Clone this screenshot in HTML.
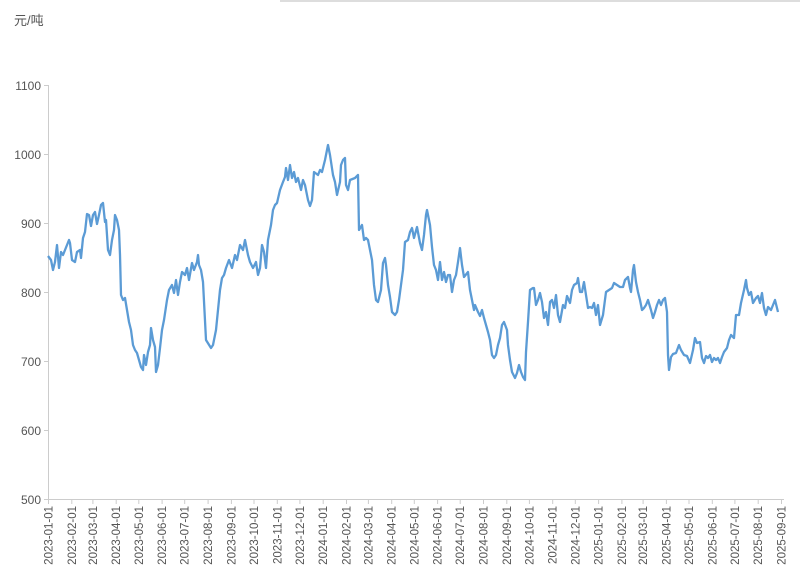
<!DOCTYPE html>
<html><head><meta charset="utf-8"><style>
body{margin:0;background:#fff;}
svg{display:block;font-family:"Liberation Sans","Noto Sans CJK SC",sans-serif;}
</style></head><body>
<svg width="800" height="580" viewBox="0 0 800 580">
<rect x="280" y="0" width="520" height="2" fill="#ddd"/>
<text x="14" y="25" font-size="13" fill="#555">元/吨</text>
<g stroke="#ccc" stroke-width="1" fill="none">
<line x1="48.5" y1="85" x2="48.5" y2="500"/>
<line x1="48" y1="499.5" x2="784" y2="499.5"/>
</g>
<g font-size="12" fill="#555" text-anchor="end">
<text x="41" y="90">1100</text><text x="41" y="159">1000</text><text x="41" y="228">900</text>
<text x="41" y="297">800</text><text x="41" y="366">700</text><text x="41" y="435">600</text><text x="41" y="504">500</text>
</g>
<g stroke="#ccc"><line x1="44" y1="85.5" x2="48" y2="85.5"/><line x1="44" y1="154.5" x2="48" y2="154.5"/><line x1="44" y1="223.5" x2="48" y2="223.5"/><line x1="44" y1="292.5" x2="48" y2="292.5"/><line x1="44" y1="361.5" x2="48" y2="361.5"/><line x1="44" y1="430.5" x2="48" y2="430.5"/><line x1="44" y1="499.5" x2="48" y2="499.5"/></g>
<g stroke="#ccc">
<line x1="48.5" y1="500" x2="48.5" y2="504"/><line x1="71.8" y1="500" x2="71.8" y2="504"/><line x1="92.9" y1="500" x2="92.9" y2="504"/><line x1="116.2" y1="500" x2="116.2" y2="504"/><line x1="138.8" y1="500" x2="138.8" y2="504"/><line x1="162.1" y1="500" x2="162.1" y2="504"/><line x1="184.7" y1="500" x2="184.7" y2="504"/><line x1="208.1" y1="500" x2="208.1" y2="504"/><line x1="231.4" y1="500" x2="231.4" y2="504"/><line x1="254" y1="500" x2="254" y2="504"/><line x1="277.3" y1="500" x2="277.3" y2="504"/><line x1="299.9" y1="500" x2="299.9" y2="504"/><line x1="323.2" y1="500" x2="323.2" y2="504"/><line x1="346.5" y1="500" x2="346.5" y2="504"/><line x1="368.4" y1="500" x2="368.4" y2="504"/><line x1="391.7" y1="500" x2="391.7" y2="504"/><line x1="414.3" y1="500" x2="414.3" y2="504"/><line x1="437.6" y1="500" x2="437.6" y2="504"/><line x1="460.2" y1="500" x2="460.2" y2="504"/><line x1="483.5" y1="500" x2="483.5" y2="504"/><line x1="506.8" y1="500" x2="506.8" y2="504"/><line x1="529.4" y1="500" x2="529.4" y2="504"/><line x1="552.7" y1="500" x2="552.7" y2="504"/><line x1="575.3" y1="500" x2="575.3" y2="504"/><line x1="598.6" y1="500" x2="598.6" y2="504"/><line x1="621.9" y1="500" x2="621.9" y2="504"/><line x1="643.1" y1="500" x2="643.1" y2="504"/><line x1="666.4" y1="500" x2="666.4" y2="504"/><line x1="689" y1="500" x2="689" y2="504"/><line x1="712.3" y1="500" x2="712.3" y2="504"/><line x1="734.9" y1="500" x2="734.9" y2="504"/><line x1="758.2" y1="500" x2="758.2" y2="504"/><line x1="781.5" y1="500" x2="781.5" y2="504"/>
</g>
<g font-size="11.5" fill="#555" text-anchor="end">
<text transform="translate(52.5,506) rotate(-90)">2023-01-01</text>
<text transform="translate(75.8,506) rotate(-90)">2023-02-01</text>
<text transform="translate(96.9,506) rotate(-90)">2023-03-01</text>
<text transform="translate(120.2,506) rotate(-90)">2023-04-01</text>
<text transform="translate(142.8,506) rotate(-90)">2023-05-01</text>
<text transform="translate(166.1,506) rotate(-90)">2023-06-01</text>
<text transform="translate(188.7,506) rotate(-90)">2023-07-01</text>
<text transform="translate(212.1,506) rotate(-90)">2023-08-01</text>
<text transform="translate(235.4,506) rotate(-90)">2023-09-01</text>
<text transform="translate(258,506) rotate(-90)">2023-10-01</text>
<text transform="translate(281.3,506) rotate(-90)">2023-11-01</text>
<text transform="translate(303.9,506) rotate(-90)">2023-12-01</text>
<text transform="translate(327.2,506) rotate(-90)">2024-01-01</text>
<text transform="translate(350.5,506) rotate(-90)">2024-02-01</text>
<text transform="translate(372.4,506) rotate(-90)">2024-03-01</text>
<text transform="translate(395.7,506) rotate(-90)">2024-04-01</text>
<text transform="translate(418.3,506) rotate(-90)">2024-05-01</text>
<text transform="translate(441.6,506) rotate(-90)">2024-06-01</text>
<text transform="translate(464.2,506) rotate(-90)">2024-07-01</text>
<text transform="translate(487.5,506) rotate(-90)">2024-08-01</text>
<text transform="translate(510.8,506) rotate(-90)">2024-09-01</text>
<text transform="translate(533.4,506) rotate(-90)">2024-10-01</text>
<text transform="translate(556.7,506) rotate(-90)">2024-11-01</text>
<text transform="translate(579.3,506) rotate(-90)">2024-12-01</text>
<text transform="translate(602.6,506) rotate(-90)">2025-01-01</text>
<text transform="translate(625.9,506) rotate(-90)">2025-02-01</text>
<text transform="translate(647.1,506) rotate(-90)">2025-03-01</text>
<text transform="translate(670.4,506) rotate(-90)">2025-04-01</text>
<text transform="translate(693,506) rotate(-90)">2025-05-01</text>
<text transform="translate(716.3,506) rotate(-90)">2025-06-01</text>
<text transform="translate(738.9,506) rotate(-90)">2025-07-01</text>
<text transform="translate(762.2,506) rotate(-90)">2025-08-01</text>
<text transform="translate(785.5,506) rotate(-90)">2025-09-01</text>
</g>
<polyline fill="none" stroke="#5b9bd5" stroke-width="2.3" stroke-linejoin="round" points="48,256 51,260 53,270 55,262 57,245 59,268 61,252 63,255 67,245 69,240 70,243 72,260 75,262 77,252 80,250 81,258 83,238 85,232 87,214 89,215 91,226 93,215 95,212 97,224 99,215 101,205 103,203 105,222 106,220 108,250 110,255 112,240 114,230 115,215 117,220 119,230 120,255 121,295 123,300 125,298 127,310 129,322 131,330 133,345 135,350 137,353 139,360 141,367 143,370 144,355 146,365 148,352 150,345 151,328 153,340 155,347 156,372 158,365 160,348 162,330 164,320 167,300 169,290 172,285 174,293 176,280 178,295 180,282 182,272 185,275 187,268 189,280 192,263 194,270 197,262 198,255 199,265 201,270 203,282 206,340 211,348 213,345 216,330 218,310 220,290 222,278 224,275 226,268 229,260 232,268 235,255 237,260 240,245 243,250 245,240 248,255 250,262 253,268 256,262 258,275 260,268 262,245 264,252 266,268 268,240 271,225 273,210 275,205 277,203 280,190 283,182 285,177 286,168 288,180 290,165 292,178 294,172 296,182 298,178 301,190 303,180 305,185 308,200 310,206 312,200 314,172 318,175 320,170 322,172 325,160 327,150 328,145 330,155 333,175 335,182 337,195 340,182 341,165 343,160 345,158 346,185 348,190 350,180 355,178 358,175 359,230 362,225 364,240 366,238 368,240 372,260 374,285 376,300 378,302 381,290 383,263 385,258 386,265 388,285 390,297 392,312 395,315 397,312 399,300 401,285 403,270 405,242 408,240 410,232 412,228 414,238 417,227 420,243 422,250 424,235 426,215 427,210 430,225 432,247 434,265 436,270 438,280 440,262 442,280 444,272 446,282 448,275 450,275 452,292 454,280 456,275 458,262 460,248 462,265 464,277 468,272 470,290 472,300 474,310 475,305 478,312 480,316 482,310 484,318 486,325 488,332 490,340 492,355 494,358 496,355 498,345 500,338 502,325 504,322 507,330 508,345 510,360 512,372 515,378 517,373 519,365 521,372 523,377 525,380 526,352 528,322 530,290 533,288 534,288 536,305 538,300 540,293 542,302 544,318 546,312 548,325 550,302 552,300 554,308 556,295 558,315 560,322 563,305 565,308 567,296 570,303 572,290 574,285 577,283 578,278 580,292 582,292 584,282 586,295 588,308 590,307 592,308 594,303 596,315 598,305 600,325 603,315 606,292 609,290 612,288 614,283 617,285 620,287 623,287 625,280 628,277 630,288 631,292 633,270 634,265 636,282 638,292 640,300 642,310 644,308 646,305 648,300 651,310 653,318 655,312 657,305 659,300 661,305 663,300 665,298 667,312 668,355 669,370 671,357 673,354 676,353 679,345 681,350 684,355 687,356 690,363 693,350 695,338 697,343 700,342 702,358 704,363 706,356 708,358 710,355 712,362 714,358 716,360 718,358 720,363 722,357 724,352 727,348 729,340 731,335 734,338 736,315 739,315 741,303 744,290 746,280 747,288 749,295 751,292 753,303 756,298 758,296 760,303 762,293 764,308 766,315 768,307 771,310 773,305 775,300 777,308 778,312"/>
</svg>
</body></html>
